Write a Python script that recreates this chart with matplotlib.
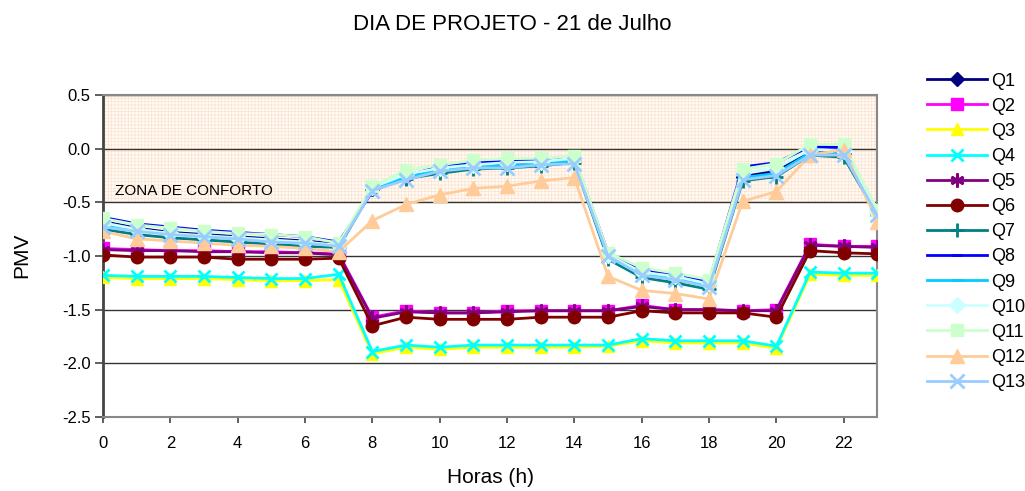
import matplotlib
matplotlib.use('Agg')
import matplotlib.pyplot as plt

plt.rcParams['font.family'] = ['Liberation Sans', 'DejaVu Sans']
plt.rcParams['hatch.linewidth'] = 0.5

# Horas do dia
horas = list(range(24))

# PMV por quarto (Q1..Q13)
q1 = [-0.68, -0.74, -0.78, -0.80, -0.82, -0.84, -0.86, -0.89, -0.38, -0.26, -0.19, -0.15,
      -0.14, -0.13, -0.10, -1.00, -1.16, -1.20, -1.27, -0.26, -0.21, -0.03, -0.04, -0.60]
q2 = [-0.93, -0.94, -0.95, -0.95, -0.96, -0.96, -0.97, -0.98, -1.57, -1.51, -1.53, -1.53,
      -1.51, -1.51, -1.51, -1.51, -1.46, -1.50, -1.50, -1.51, -1.50, -0.89, -0.91, -0.91]
q3 = [-1.20, -1.21, -1.21, -1.21, -1.22, -1.23, -1.23, -1.22, -1.91, -1.85, -1.87, -1.85,
      -1.85, -1.85, -1.85, -1.84, -1.79, -1.81, -1.81, -1.81, -1.86, -1.17, -1.18, -1.18]
q4 = [-1.18, -1.19, -1.19, -1.19, -1.20, -1.21, -1.21, -1.17, -1.89, -1.83, -1.85, -1.83,
      -1.83, -1.83, -1.83, -1.83, -1.77, -1.79, -1.79, -1.79, -1.84, -1.15, -1.16, -1.16]
q5 = [-0.94, -0.95, -0.95, -0.96, -0.96, -0.97, -0.97, -0.99, -1.58, -1.52, -1.53, -1.53,
      -1.52, -1.51, -1.51, -1.51, -1.47, -1.50, -1.50, -1.51, -1.51, -0.90, -0.91, -0.92]
q6 = [-0.99, -1.01, -1.01, -1.01, -1.03, -1.03, -1.03, -1.02, -1.65, -1.57, -1.59, -1.59,
      -1.59, -1.57, -1.57, -1.57, -1.51, -1.53, -1.53, -1.53, -1.57, -0.95, -0.97, -0.98]
q7 = [-0.75, -0.80, -0.83, -0.85, -0.87, -0.89, -0.91, -0.92, -0.38, -0.28, -0.23, -0.19,
      -0.18, -0.16, -0.13, -1.03, -1.20, -1.25, -1.31, -0.30, -0.26, -0.06, -0.08, -0.62]
q8 = [-0.64, -0.70, -0.73, -0.76, -0.78, -0.80, -0.82, -0.87, -0.40, -0.25, -0.17, -0.13,
      -0.12, -0.11, -0.09, -0.97, -1.13, -1.17, -1.24, -0.17, -0.13, 0.02, 0.01, -0.58]
q9 = [-0.70, -0.76, -0.79, -0.82, -0.84, -0.86, -0.88, -0.90, -0.37, -0.27, -0.20, -0.17,
      -0.16, -0.14, -0.11, -1.01, -1.17, -1.21, -1.28, -0.27, -0.23, -0.04, -0.05, -0.61]
q10 = [-0.69, -0.75, -0.79, -0.81, -0.83, -0.85, -0.87, -0.90, -0.36, -0.24, -0.18, -0.15,
       -0.13, -0.12, -0.09, -0.99, -1.15, -1.19, -1.26, -0.22, -0.18, -0.01, -0.02, -0.59]
q11 = [-0.65, -0.71, -0.74, -0.77, -0.79, -0.80, -0.82, -0.88, -0.35, -0.20, -0.15, -0.11,
       -0.09, -0.09, -0.07, -0.97, -1.11, -1.16, -1.22, -0.19, -0.14, 0.04, 0.04, -0.57]
q12 = [-0.77, -0.84, -0.86, -0.88, -0.90, -0.91, -0.93, -0.96, -0.67, -0.52, -0.43, -0.37,
       -0.35, -0.30, -0.27, -1.19, -1.32, -1.35, -1.40, -0.49, -0.40, -0.06, -0.01, -0.68]
q13 = [-0.73, -0.77, -0.80, -0.82, -0.84, -0.87, -0.88, -0.91, -0.39, -0.29, -0.21, -0.18,
       -0.18, -0.15, -0.14, -1.00, -1.18, -1.22, -1.29, -0.29, -0.25, -0.06, -0.06, -0.62]

nomes = ['Q1', 'Q2', 'Q3', 'Q4', 'Q5', 'Q6', 'Q7', 'Q8', 'Q9', 'Q10', 'Q11', 'Q12', 'Q13']
series = [q1, q2, q3, q4, q5, q6, q7, q8, q9, q10, q11, q12, q13]

# estilo de cada série (cor, marcador, tamanho)
estilos = [
    ('#000080', 'D', 7),
    ('#ff00ff', 's', 8),
    ('#ffff00', '^', 9),
    ('#00ffff', 'x', 9),
    ('#800080', (6, 2, 0), 10),
    ('#800000', 'o', 9),
    ('#008080', '+', 10),
    ('#0000ff', '_', 7),
    ('#00ccff', '_', 8),
    ('#ccffff', 'D', 8),
    ('#ccffcc', 's', 9),
    ('#ffcc99', '^', 10),
    ('#99ccff', 'x', 10),
]

fig = plt.figure(figsize=(10.25, 4.91), dpi=100)
ax = fig.add_axes([0.1005, 0.1507, 0.7555, 0.6558])

# zona de conforto
ax.fill_between([0, 23], -0.5, 0.5, facecolor='#fffbf7', edgecolor='#fde2cb',
                hatch='+++++', linewidth=0, zorder=0)
ax.text(0.35, -0.43, 'ZONA DE CONFORTO', fontsize=11, color='black', zorder=1)

for nome, ys, (cor, mk, ms) in zip(nomes, series, estilos):
    mew = 2 if mk in ('x', '+', '_') or mk == (6, 2, 0) else 1
    ax.plot(horas, ys, color=cor, marker=mk, markersize=ms, linewidth=2,
            markeredgewidth=mew, markeredgecolor=cor, markerfacecolor=cor,
            label=nome, zorder=3)

ax.set_xlim(0, 23)
ax.set_ylim(-2.5, 0.5)
ax.set_xticks(range(0, 24, 2))
ax.set_yticks([0.5, 0.0, -0.5, -1.0, -1.5, -2.0, -2.5])
ax.set_yticklabels(['0.5', '0.0', '-0.5', '-1.0', '-1.5', '-2.0', '-2.5'])
ax.yaxis.grid(True, color='#333333', linewidth=1, zorder=1)
ax.set_axisbelow(True)

ax.tick_params(axis='y', labelsize=12, length=6, width=1.2, color='#444444', pad=3)
ax.tick_params(axis='x', labelsize=12, length=4, width=1.2, color='#444444', pad=10)

for s in ['top', 'right', 'bottom']:
    ax.spines[s].set_color('#888888')
    ax.spines[s].set_linewidth(1.5)
ax.spines['left'].set_color('#444444')
ax.spines['left'].set_linewidth(2)

ax.set_xlabel('Horas (h)', fontsize=15)
ax.xaxis.set_label_coords(0.5, -0.158)
ax.set_ylabel('PMV', fontsize=15)
ax.yaxis.set_label_coords(-0.105, 0.503)
ax.yaxis.label.set_va('center')
fig.text(0.5, 0.950, 'DIA DE PROJETO - 21 de Julho', fontsize=16, ha='center', va='center')

ax.legend(loc='upper left', bbox_to_anchor=(0.8976, 0.867), bbox_transform=fig.transFigure,
          borderaxespad=0, frameon=False, fontsize=13,
          handlelength=3.3, labelspacing=0.45, handletextpad=0.22)

fig.savefig('out.png', dpi=100)
